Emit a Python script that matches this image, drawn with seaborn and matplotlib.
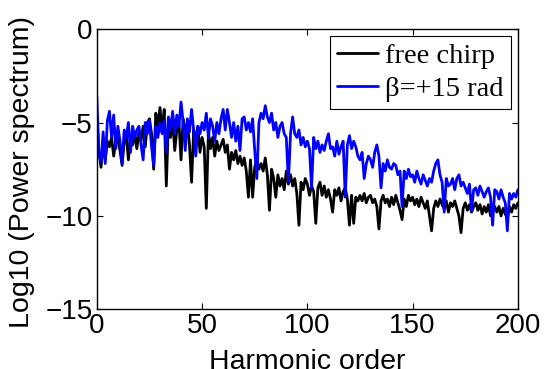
import numpy as np
import pandas as pd
import matplotlib
matplotlib.use("Agg")
import matplotlib.pyplot as plt
import seaborn as sns

# Harmonic orders 0..200
harmonic = list(range(0, 201))

# log10 power spectrum, free chirp
free_chirp = [
    -4.7, -6.5, -7.4, -6.0, -7.0, -6.0, -6.3, -5.8, -6.8, -6.0,
    -5.9, -6.5, -7.3, -6.0, -5.7, -7.0, -5.8, -6.2, -5.6, -6.4,
    -5.5, -6.0, -5.2, -6.3, -5.0, -4.8, -5.6, -7.5, -4.5, -5.2,
    -4.2, -5.5, -4.3, -8.4, -5.0, -5.8, -4.8, -6.5, -5.4, -5.0,
    -7.0, -4.8, -5.6, -5.0, -6.2, -8.2, -5.4, -6.0, -5.2, -6.6,
    -5.8, -6.3, -9.6, -5.5, -6.4, -5.8, -6.8, -6.0, -6.5, -6.2,
    -5.9, -6.6, -6.2, -7.5, -6.6, -7.0, -6.5, -7.2, -6.8, -7.3,
    -6.9, -7.6, -9.0, -7.0, -9.0, -7.4, -7.0, -7.5, -7.2, -7.6,
    -6.9, -7.8, -9.7, -7.5, -8.0, -9.0, -7.8, -8.4, -8.0, -8.6,
    -7.6, -8.3, -7.8, -8.4, -8.0, -8.8, -10.5, -8.2, -8.6, -8.0,
    -8.3, -8.9, -8.4, -8.7, -10.4, -8.5, -8.2, -8.9, -8.4, -9.0,
    -8.6, -9.1, -9.8, -8.6, -8.9, -8.5, -9.2, -8.7, -8.5, -9.1,
    -10.5, -8.9, -10.4, -9.0, -9.2, -8.9, -9.2, -8.8, -9.3, -9.0,
    -8.9, -9.3, -9.1, -9.5, -10.7, -9.2, -8.9, -9.3, -9.1, -9.5,
    -9.0, -9.4, -8.9, -9.3, -9.7, -10.2, -9.1, -9.5, -8.9, -9.2,
    -9.0, -9.4, -9.1, -9.5, -9.0, -9.3, -9.6, -9.2, -10.0, -10.8,
    -9.6, -9.2, -9.5, -9.1, -9.4, -9.6, -9.2, -9.8, -9.3, -9.5,
    -9.2, -9.6, -10.0, -10.9, -9.6, -9.3, -9.7, -9.4, -9.8, -9.5,
    -9.3, -9.7, -9.4, -9.9, -9.5, -9.8, -9.4, -10.0, -9.6, -9.5,
    -9.8, -9.5, -10.0, -9.6, -9.9, -10.1, -9.5, -9.8, -9.4, -9.6,
    -9.3,
]

# log10 power spectrum, beta = +15 rad
beta_15 = [
    -3.6, -6.8, -7.1, -5.5, -7.2, -4.9, -4.4, -5.8, -4.6, -6.4,
    -5.2, -6.0, -7.2, -5.4, -5.8, -5.0, -6.6, -5.2, -5.8, -5.4,
    -5.2, -6.2, -7.0, -5.0, -5.6, -4.9, -6.3, -7.3, -5.2, -5.8,
    -5.0, -5.6, -4.9, -6.6, -4.7, -5.4, -4.4, -5.6, -4.6, -5.2,
    -3.9, -5.0, -6.5, -4.8, -5.5, -4.3, -5.4, -6.8, -5.2, -5.6,
    -5.0, -5.4, -4.5, -5.8, -4.8, -5.2, -6.0, -5.0, -5.6, -4.8,
    -4.3, -5.4, -4.3, -5.0, -5.8, -5.0, -6.0, -5.2, -6.5, -4.8,
    -4.7, -5.4, -5.0, -5.5, -4.8, -6.5, -8.0, -5.0, -4.5, -4.8,
    -4.1, -4.7, -5.0, -4.5, -5.4, -5.0, -5.8, -5.2, -5.0, -5.6,
    -5.8, -8.2, -5.6, -4.7, -5.6, -5.8, -5.4, -6.2, -5.8, -6.3,
    -6.0, -6.4, -8.5, -5.8, -6.4, -6.0, -6.6, -6.2, -6.5, -6.0,
    -5.6, -6.4, -6.3, -6.8, -6.0, -6.7, -6.3, -6.0, -9.0, -6.2,
    -5.7, -6.4, -6.0, -6.3, -6.8, -7.0, -6.6, -8.0, -7.2, -6.8,
    -7.0, -7.4, -6.6, -6.2, -6.8, -8.5, -7.2, -7.6, -7.0, -7.4,
    -7.5, -7.2, -7.3, -7.8, -7.6, -9.5, -7.6, -8.0, -7.5, -7.9,
    -7.8, -8.2, -7.6, -8.0, -8.3, -7.8, -8.1, -8.4, -8.0, -8.2,
    -7.6, -7.2, -7.0, -7.8, -8.2, -9.8, -8.0, -8.4, -8.3, -8.0,
    -8.6, -8.0, -7.8, -8.4, -8.2, -8.5, -8.8, -8.3, -9.7, -8.6,
    -8.5, -8.9, -8.4, -8.7, -9.0, -8.7, -8.5, -9.0, -10.5, -8.6,
    -8.7, -9.1, -8.6, -9.0, -9.3, -10.8, -8.8, -9.1, -8.8, -9.0,
    -8.6,
]

series_names = ["free chirp", "\u03b2=+15 rad"]
series_colors = ["#000000", "#0000ff"]

df = pd.DataFrame({
    "harmonic": harmonic * 2,
    "value": free_chirp + beta_15,
    "series": [series_names[0]] * len(harmonic) + [series_names[1]] * len(harmonic),
})

sns.set_theme(style="ticks")
plt.rcParams["font.family"] = ["Liberation Sans", "DejaVu Sans"]
plt.rcParams["text.color"] = "black"
plt.rcParams["axes.labelcolor"] = "black"

fig = plt.figure(figsize=(5.44, 3.69), dpi=100)
ax = fig.add_axes([0.178, 0.162, 0.774, 0.759])

sns.lineplot(data=df, x="harmonic", y="value", hue="series",
             palette=dict(zip(series_names, series_colors)),
             linewidth=2, ax=ax, legend=False)

ax.set_xlim(0, 200)
ax.set_ylim(-15, 0)
ax.set_xticks([0, 50, 100, 150, 200])
ax.set_yticks([-15, -10, -5, 0])
ax.set_yticklabels(["\u221215", "\u221210", "\u22125", "0"])
ax.tick_params(direction="in", top=True, right=True, length=4,
               width=0.8, labelsize=20, colors="black", pad=3)
for s in ax.spines.values():
    s.set_visible(True)
    s.set_color("black")
    s.set_linewidth(1.0)

ax.set_xlabel("Harmonic order", fontsize=20.5, color="black")
ax.set_ylabel("Log10 (Power spectrum)", fontsize=20.5, color="black")
ax.xaxis.set_label_coords(0.5, -0.142)
ax.yaxis.set_label_coords(-0.147, 0.49)

handles = [plt.Line2D([], [], color=c, lw=2) for c in series_colors]
leg = ax.legend(handles, series_names, loc="upper right",
                prop={"family": "Liberation Serif", "size": 20.5},
                frameon=True, fancybox=False, edgecolor="black",
                framealpha=1, borderpad=0.25, labelspacing=0.25,
                handlelength=1.45, handletextpad=0.25, borderaxespad=0.25)
leg.get_frame().set_linewidth(0.8)

fig.savefig("out.png", dpi=100)
